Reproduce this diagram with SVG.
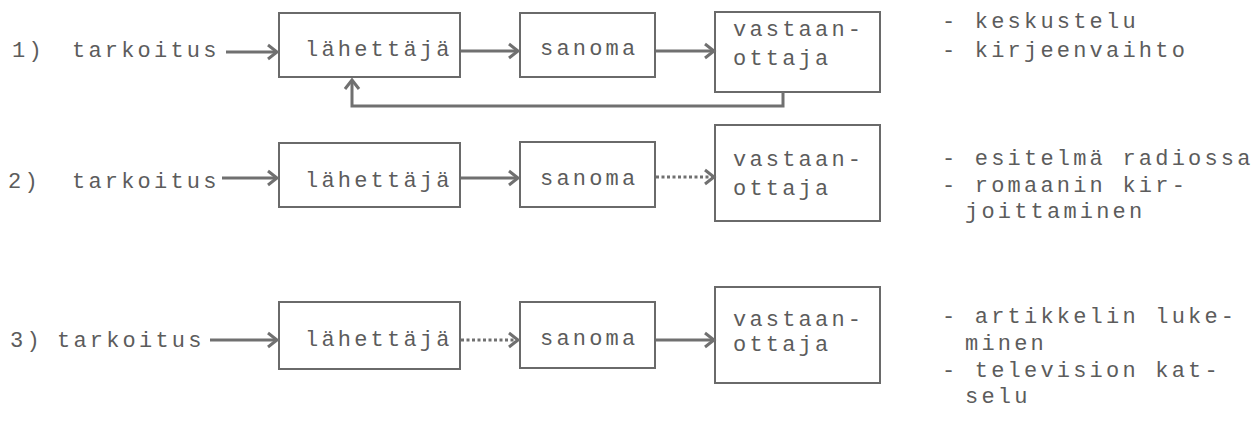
<svg xmlns="http://www.w3.org/2000/svg" width="1259" height="424" viewBox="0 0 1259 424">
  <style>
    text { font-family: "Liberation Mono", "DejaVu Sans Mono", monospace; font-size: 22px; fill: #5c5c5c; letter-spacing: 3.2px; }
    .box { fill: none; stroke: #6a6a6a; stroke-width: 2; }
    .link { fill: none; stroke: #707070; stroke-width: 3; }
    .dotted { stroke-dasharray: 3 2.5; }
  </style>
  <defs>
    <marker id="head" markerUnits="userSpaceOnUse" markerWidth="16" markerHeight="20" refX="12" refY="10" orient="auto">
      <polyline points="3,3 12,10 3,17" fill="none" stroke="#707070" stroke-width="3"/>
    </marker>
  </defs>

  <rect width="1259" height="424" fill="#ffffff"/>

  <!-- row 1: conversation with feedback -->
  <g id="row1-label"><text x="12" y="57">1)</text><text x="72" y="57">tarkoitus</text></g>
  <g id="row1-sender"><rect class="box" x="279" y="13" width="181" height="64"/><text x="305" y="56">lähettäjä</text></g>
  <g id="row1-message"><rect class="box" x="520" y="13" width="135" height="64"/><text x="540" y="55">sanoma</text></g>
  <g id="row1-receiver"><rect class="box" x="715" y="12" width="165" height="80"/><text x="733" y="36">vastaan-</text><text x="733" y="65">ottaja</text></g>
  <g id="row1-examples"><text x="942" y="28">- keskustelu</text><text x="942" y="57">- kirjeenvaihto</text></g>

  <!-- row 2 -->
  <g id="row2-label"><text x="8" y="188">2)</text><text x="72" y="188">tarkoitus</text></g>
  <g id="row2-sender"><rect class="box" x="279" y="143" width="181" height="64"/><text x="305" y="187">lähettäjä</text></g>
  <g id="row2-message"><rect class="box" x="520" y="142" width="135" height="65"/><text x="540" y="185">sanoma</text></g>
  <g id="row2-receiver"><rect class="box" x="715" y="125" width="165" height="96"/><text x="733" y="166">vastaan-</text><text x="733" y="195">ottaja</text></g>
  <g id="row2-examples"><text x="942" y="165">- esitelmä radiossa</text><text x="942" y="192">- romaanin kir-</text><text x="965" y="218">joittaminen</text></g>

  <!-- row 3 -->
  <g id="row3-label"><text x="10" y="347">3)</text><text x="57" y="347">tarkoitus</text></g>
  <g id="row3-sender"><rect class="box" x="279" y="302" width="181" height="67"/><text x="305" y="346">lähettäjä</text></g>
  <g id="row3-message"><rect class="box" x="520" y="302" width="135" height="66"/><text x="540" y="345">sanoma</text></g>
  <g id="row3-receiver"><rect class="box" x="715" y="287" width="165" height="96"/><text x="733" y="326">vastaan-</text><text x="733" y="351">ottaja</text></g>
  <g id="row3-examples"><text x="942" y="323">- artikkelin luke-</text><text x="965" y="350">minen</text><text x="942" y="377">- television kat-</text><text x="965" y="403">selu</text></g>

  <!-- connectors -->
  <g id="connectors">
    <line class="link" x1="226" y1="52" x2="277" y2="52" marker-end="url(#head)"/>
    <line class="link" x1="461" y1="51" x2="518" y2="51" marker-end="url(#head)"/>
    <line class="link" x1="656" y1="51" x2="714" y2="51" marker-end="url(#head)"/>
    <path class="link" d="M783,92 V106 H352 V80" marker-end="url(#head)"/>

    <line class="link" x1="222" y1="178" x2="277" y2="178" marker-end="url(#head)"/>
    <line class="link" x1="461" y1="178" x2="518" y2="178" marker-end="url(#head)"/>
    <line class="link dotted" x1="656" y1="177" x2="714" y2="177" marker-end="url(#head)"/>

    <line class="link" x1="210" y1="340" x2="277" y2="340" marker-end="url(#head)"/>
    <line class="link dotted" x1="461" y1="340" x2="518" y2="340" marker-end="url(#head)"/>
    <line class="link" x1="656" y1="340" x2="714" y2="340" marker-end="url(#head)"/>
  </g>
</svg>
